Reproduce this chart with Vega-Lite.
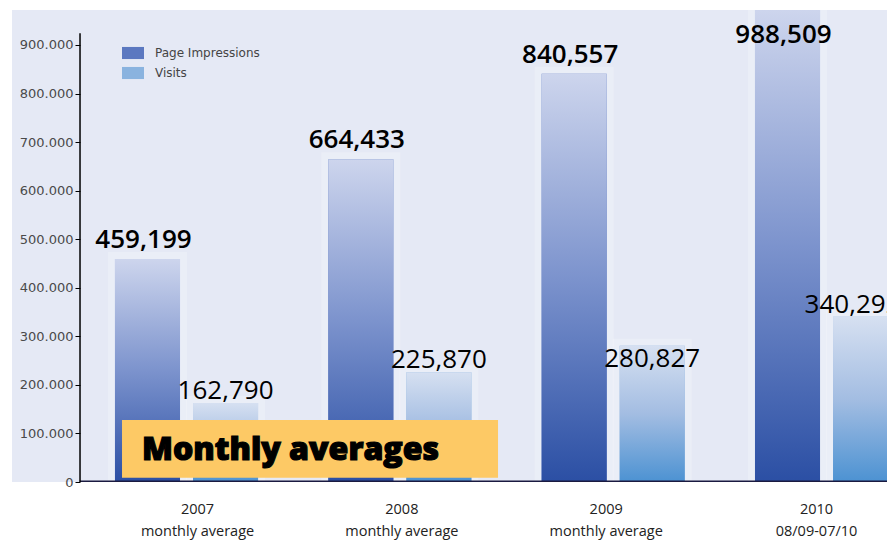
{
  "$schema": "https://vega.github.io/schema/vega-lite/v6.json",
  "width": 875,
  "height": 472,
  "autosize": {"type": "none"},
  "padding": {"left": 12, "top": 10, "right": 0, "bottom": 61},
  "background": "white",
  "config": {"view": {"stroke": null, "fill": "#e5e9f5"}},
  "data": {
    "values": [
      {"year": "2007", "series": "Page Impressions", "value": 459199},
      {"year": "2007", "series": "Visits", "value": 162790},
      {"year": "2008", "series": "Page Impressions", "value": 664433},
      {"year": "2008", "series": "Visits", "value": 225870},
      {"year": "2009", "series": "Page Impressions", "value": 840557},
      {"year": "2009", "series": "Visits", "value": 280827},
      {"year": "2010", "series": "Page Impressions", "value": 988509},
      {"year": "2010", "series": "Visits", "value": 340292}
    ]
  },
  "encoding": {
    "x": {
      "field": "year",
      "type": "nominal",
      "scale": {"range": [67.85, 921.2], "paddingInner": 0, "paddingOuter": 0},
      "axis": {
        "title": null,
        "labelAngle": 0,
        "labelExpr": "datum.label == '2010' ? ['2010', '08/09-07/10'] : [datum.label, 'monthly average']",
        "labelFont": "Open Sans",
        "labelFontSize": 14.5,
        "labelColor": "#222222",
        "labelLineHeight": 22,
        "labelPadding": 20,
        "ticks": false,
        "domain": false,
        "labelOffset": {"expr": "datum.value == '2007' ? 11 : datum.value == '2008' ? 2 : datum.value == '2009' ? -7 : -10"}
      }
    },
    "y": {
      "field": "value",
      "type": "quantitative",
      "scale": {"domain": [0, 972000], "clamp": true, "nice": false},
      "axis": {
        "title": null,
        "values": [0, 100000, 200000, 300000, 400000, 500000, 600000, 700000, 800000, 900000],
        "labelExpr": "replace(format(datum.value, ','), ',', '.')",
        "offset": -68,
        "grid": false,
        "domain": false,
        "tickColor": "#000000",
        "tickSize": 5,
        "labelPadding": 2,
        "labelFont": "DejaVu Sans",
        "labelFontSize": 13,
        "labelColor": "#4a4a4a"
      }
    }
  },
  "layer": [
    {
      "mark": {"type": "bar", "fill": "transparent", "stroke": "white", "strokeWidth": 14, "strokeOpacity": 0.22, "clip": true},
      "encoding": {
        "xOffset": {"field": "series", "type": "nominal", "scale": {"domain": ["Page Impressions", "Visits"], "paddingInner": 0.1667, "paddingOuter": 0.45}}
      }
    },
    {
      "mark": {"type": "bar", "clip": true},
      "encoding": {
        "xOffset": {"field": "series", "type": "nominal", "scale": {"domain": ["Page Impressions", "Visits"], "paddingInner": 0.1667, "paddingOuter": 0.45}},
        "color": {
          "field": "series",
          "type": "nominal",
          "scale": {"domain": ["Page Impressions", "Visits"], "range": ["#5b78c0", "#8ab3df"]},
          "legend": {
            "orient": "none",
            "legendX": 110,
            "legendY": 32,
            "title": null,
            "padding": 0,
            "symbolType": "M-1,-0.55L1,-0.55L1,0.55L-1,0.55Z",
            "symbolSize": 484,
            "symbolStrokeWidth": 0,
            "labelFont": "DejaVu Sans",
            "labelFontSize": 12,
            "labelColor": "#444444",
            "labelOffset": 11,
            "rowPadding": 2
          }
        }
      }
    },
    {
      "transform": [{"filter": "datum.series == 'Page Impressions'"}],
      "mark": {"type": "bar", "clip": true, "color": {"gradient": "linear", "x1": 0, "y1": 0, "x2": 0, "y2": 1, "stops": [{"offset": 0, "color": "#cdd5ed"}, {"offset": 0.5, "color": "#7c93cd"}, {"offset": 1, "color": "#2b4fa4"}]}},
      "encoding": {
        "xOffset": {"field": "series", "type": "nominal", "scale": {"domain": ["Page Impressions", "Visits"], "paddingInner": 0.1667, "paddingOuter": 0.45}}
      }
    },
    {
      "transform": [{"filter": "datum.series == 'Visits'"}],
      "mark": {"type": "bar", "clip": true, "color": {"gradient": "linear", "x1": 0, "y1": 0, "x2": 0, "y2": 1, "stops": [{"offset": 0, "color": "#d6e0f1"}, {"offset": 0.5, "color": "#a3bde2"}, {"offset": 1, "color": "#4c92d2"}]}},
      "encoding": {
        "xOffset": {"field": "series", "type": "nominal", "scale": {"domain": ["Page Impressions", "Visits"], "paddingInner": 0.1667, "paddingOuter": 0.45}}
      }
    },
    {
      "transform": [{"filter": "datum.series == 'Page Impressions'"}],
      "mark": {"type": "text", "font": "Open Sans", "fontSize": 26, "fontWeight": 600, "baseline": "alphabetic", "color": "#000000", "dx": -4, "dy": {"expr": "datum.value > 972000 ? 33 : -11"}},
      "encoding": {
        "xOffset": {"field": "series", "type": "nominal", "scale": {"domain": ["Page Impressions", "Visits"], "paddingInner": 0.1667, "paddingOuter": 0.45}},
        "text": {"field": "value", "type": "quantitative", "format": ","}
      }
    },
    {
      "transform": [{"filter": "datum.series == 'Visits'"}],
      "mark": {"type": "text", "font": "Open Sans", "fontSize": 26, "fontWeight": 400, "baseline": "alphabetic", "color": "#000000", "dx": {"expr": "datum.year == '2010' ? -13 : 0"}, "dy": {"expr": "datum.year == '2009' ? 21 : -4"}},
      "encoding": {
        "xOffset": {"field": "series", "type": "nominal", "scale": {"domain": ["Page Impressions", "Visits"], "paddingInner": 0.1667, "paddingOuter": 0.45}},
        "text": {"field": "value", "type": "quantitative", "format": ","}
      }
    },
    {
      "transform": [{"filter": "datum.year == '2007' && datum.series == 'Visits'"}],
      "mark": {"type": "bar", "color": "#1a1a40", "width": 1000, "xOffset": 393.35},
      "encoding": {
        "y": {"datum": 0, "type": "quantitative"},
        "y2": {"datum": 3000}
      }
    },
    {
      "transform": [{"filter": "datum.year == '2007' && datum.series == 'Visits'"}],
      "mark": {"type": "bar", "color": "#000000", "width": 1.5, "xOffset": -106.5},
      "encoding": {
        "y": {"datum": 0, "type": "quantitative"},
        "y2": {"datum": 924000}
      }
    },
    {
      "transform": [{"filter": "datum.year == '2007' && datum.series == 'Visits'"}],
      "mark": {"type": "bar", "color": "#fdc965", "width": 376, "xOffset": 123.5},
      "encoding": {
        "y": {"datum": 8500, "type": "quantitative"},
        "y2": {"datum": 127500}
      }
    },
    {
      "transform": [{"filter": "datum.year == '2007' && datum.series == 'Visits'"}],
      "mark": {"type": "text", "font": "Open Sans", "fontSize": 32, "fontWeight": 800, "align": "left", "baseline": "alphabetic", "color": "#000000", "stroke": "#000000", "strokeWidth": 1.2, "dx": -44.5, "text": "Monthly averages"},
      "encoding": {
        "y": {"datum": 45000, "type": "quantitative"}
      }
    }
  ]
}
